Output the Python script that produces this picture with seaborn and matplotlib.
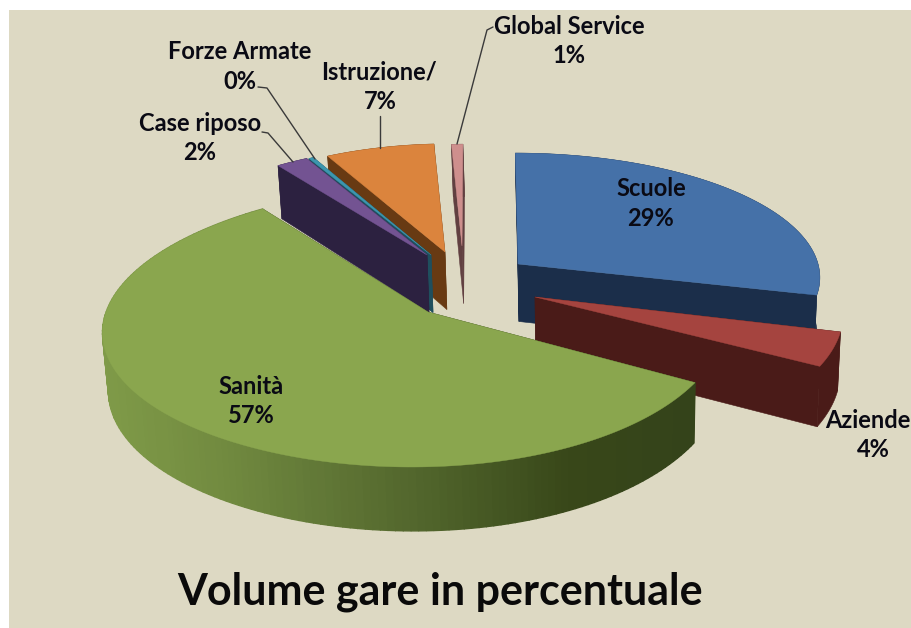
import numpy as np
import matplotlib
matplotlib.use('Agg')
import matplotlib.pyplot as plt
import seaborn as sns

# dati del grafico
categorie = ['Scuole', 'Aziende', 'Sanità', 'Case riposo', 'Forze Armate', 'Istruzione/', 'Global Service']
valori = [29, 4, 56.7, 2, 0.3, 7, 1]

# colori faccia superiore e parete
col_top = ['#4571A8', '#A5443F', '#8AA64E', '#735392', '#3C96AE', '#DB843D', '#CE8F8D']
col_wall = ['#1B2E4A', '#4A1B18', '#36451A', '#2C2140', '#1F4F5E', '#683A13', '#614041']
sanita_shade = ['#7F9A48', '#728B40', '#5F7535', '#4C5F28', '#384719', '#34431A']

# layout: vertice di ogni fetta (pixel), raggi, inclinazione e fuga laterale
tip_x = [518, 535, 428, 427, 431, 445, 462]
tip_y = [264, 297, 312, 255, 255, 252, 246]
rx = [300, 306, 309, 280, 280, 274, 200]
ry = [122, 137, 139.5, 121, 121, 119, 112]
shear = [-3, -6, 15, 10, 8, 5, 1]
fuga = [0, 0, 0.04, 0, 0, 0, 0]
ordine = [6, 5, 4, 3, 0, 1, 2]

PERSP, DEPTH = 0.1, 57.5

sns.set_theme(style='white')
plt.rcParams['font.family'] = ['Lato', 'DejaVu Sans']

fig = plt.figure(figsize=(9.12, 6.28), dpi=100, facecolor='white')
ax = fig.add_axes([9 / 912, 0, 903 / 912, 618 / 628], facecolor='#DDD9C3')
ax.set_xlim(9, 912)
ax.set_ylim(628, 10)
ax.set_xticks([])
ax.set_yticks([])
sns.despine(ax=ax, left=True, bottom=True)


def proietta(theta, r, i, z=0):
    u, v = np.sin(theta) * r, np.cos(theta) * r
    s = 1 / (1 + PERSP * v)
    sx = 1 / (1 + PERSP * v + fuga[i] * u)
    x = tip_x[i] + (rx[i] * u + shear[i] * v) * sx
    y = tip_y[i] - ry[i] * v * s
    x = x + (600 - x) * 0.012 * z
    y = y + z * DEPTH * s
    return x, y


cum = np.cumsum([0] + valori) / np.sum(valori) * 2 * np.pi

for i in ordine:
    th = np.linspace(cum[i], cum[i + 1], 160)
    ax_top, ay_top = proietta(th, 1, i)
    ax_bot, ay_bot = proietta(th, 1, i, 1)
    tx_top, ty_top = proietta(th[:1], 0, i)
    tx_bot, ty_bot = proietta(th[:1], 0, i, 1)

    # pareti radiali
    for k in (0, -1):
        ax.fill([tx_top[0], ax_top[k], ax_bot[k], tx_bot[0]],
                [ty_top[0], ay_top[k], ay_bot[k], ty_bot[0]],
                color=col_wall[i], lw=0.4)

    # parete esterna, a bande per la sfumatura della fetta grande
    if categorie[i] == 'Sanità':
        pal = sns.blend_palette(sanita_shade, n_colors=100)
        x0, x1 = ax_top.min(), ax_top.max()
        for k in np.argsort(ax_top[:-1]):
            t = (ax_top[k] - x0) / (x1 - x0)
            c = pal[min(int(t * 100), 99)]
            ax.fill([ax_top[k], ax_top[k + 1], ax_bot[k + 1], ax_bot[k]],
                    [ay_top[k], ay_top[k + 1], ay_bot[k + 1], ay_bot[k]],
                    color=c, lw=1)
    else:
        ax.fill(np.r_[ax_top, ax_bot[::-1]], np.r_[ay_top, ay_bot[::-1]],
                color=col_wall[i], lw=0.4)

    # faccia superiore
    ax.fill(np.r_[tx_top, ax_top], np.r_[ty_top, ay_top], color=col_top[i], lw=0.3)

# linee guida delle etichette
guide_col = '#3A3A3A'
ax.plot([258, 267, 315], [87, 88, 159], color=guide_col, lw=1)
ax.plot([262, 268, 293], [132, 133, 162], color=guide_col, lw=1)
ax.plot([380, 380], [116, 148], color=guide_col, lw=1)
ax.plot([493, 487, 457], [27, 30, 144], color=guide_col, lw=1)

# etichette: nome e percentuale
pos_nome = [(651, 189), (868, 421), (251, 387), (200, 124), (240, 52), (379, 72), (569, 27)]
pos_perc = [(651, 219), (873, 450), (251, 416), (200, 153), (240, 82), (380, 102), (569, 56)]
for i, nome in enumerate(categorie):
    ax.text(*pos_nome[i], nome, ha='center', va='center', fontsize=17,
            fontweight='bold', color='#0A0A14')
    ax.text(*pos_perc[i], f'{valori[i]:.0f}%', ha='center', va='center', fontsize=17,
            fontweight='bold', color='#0A0A14')

ax.text(440, 592, 'Volume gare in percentuale', ha='center', va='center', fontsize=31,
        fontweight='bold', color='#0A0A0A')

fig.savefig('out.png', dpi=100, facecolor='white')
